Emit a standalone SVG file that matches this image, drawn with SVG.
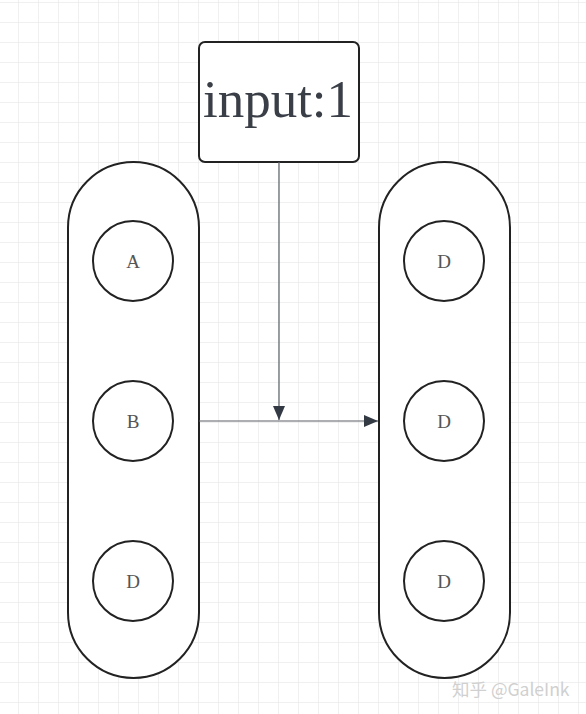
<svg xmlns="http://www.w3.org/2000/svg" width="586" height="714" viewBox="0 0 586 714">
<defs>
<pattern id="grid" x="18" y="2" width="20" height="20" patternUnits="userSpaceOnUse">
<path d="M0 0H20M0 0V20" fill="none" stroke="#e2e2e2" stroke-width="1"/>
</pattern>
<marker id="arr" viewBox="0 0 14 12" refX="14" refY="6" markerWidth="14" markerHeight="12" markerUnits="userSpaceOnUse" orient="auto">
<path d="M0 0L14 6L0 12Z" fill="#333a44"/>
</marker>
<style>
.shape{fill:#fff;stroke:#222;stroke-width:2}
.lbl{font-family:"Liberation Serif",serif;font-size:19px;fill:#555;text-anchor:middle}
.conn{fill:none;stroke:#5a5f66;stroke-width:1.2}
</style>
</defs>
<rect width="586" height="714" fill="#fff"/>
<rect width="586" height="714" fill="url(#grid)"/>
<g id="left">
<rect class="shape" x="68" y="162" width="131" height="516" rx="65.5"/>
</g>
<g id="right">
<rect class="shape" x="379" y="162" width="131" height="516" rx="65.5"/>
</g>
<g id="nodeA"><circle class="shape" cx="133" cy="261" r="40"/><text class="lbl" x="133" y="268">A</text></g>
<g id="nodeB"><circle class="shape" cx="133" cy="421" r="40"/><text class="lbl" x="133" y="428">B</text></g>
<g id="nodeD1"><circle class="shape" cx="133" cy="581" r="40"/><text class="lbl" x="133" y="588">D</text></g>
<g id="nodeD2"><circle class="shape" cx="444" cy="261" r="40"/><text class="lbl" x="444" y="268">D</text></g>
<g id="nodeD3"><circle class="shape" cx="444" cy="421" r="40"/><text class="lbl" x="444" y="428">D</text></g>
<g id="nodeD4"><circle class="shape" cx="444" cy="581" r="40"/><text class="lbl" x="444" y="588">D</text></g>
<g id="input">
<rect class="shape" x="199" y="42" width="160" height="120" rx="6"/>
<text x="278" y="117" font-family="'Liberation Serif',serif" font-size="53" fill="#3a3f47" text-anchor="middle">input:1</text>
</g>
<g id="connectors">
<path class="conn" d="M279 162V420" marker-end="url(#arr)"/>
<path class="conn" d="M199 421H378" marker-end="url(#arr)"/>
</g>
<text x="452" y="696" font-family="'Noto Sans CJK SC','Liberation Sans',sans-serif" font-size="17.5" fill="#d0d0d0">知乎 @GaleInk</text>
</svg>
